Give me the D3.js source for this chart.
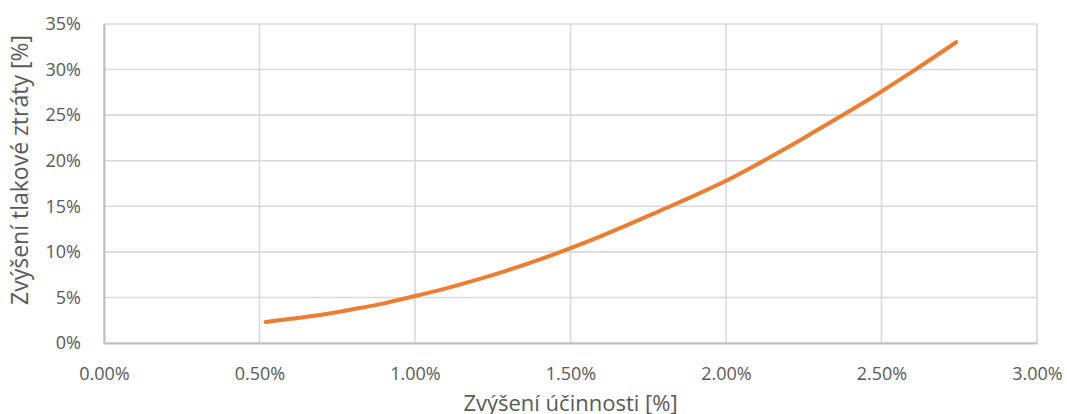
<!DOCTYPE html>
<meta charset="utf-8">
<style>
  body { margin: 0; background: #fff; }
  text { font-family: "Open Sans", sans-serif; fill: #595959; }
</style>
<script src="https://d3js.org/d3.v7.min.js"></script>
<div id="chart"></div>
<script>

// data (percent)
var efficiencyGain = [0.52, 0.6, 0.7, 0.8, 0.9, 1.0, 1.1, 1.2, 1.3, 1.4, 1.5, 1.6, 1.7, 1.8, 1.9, 2.0, 2.1, 2.2, 2.3, 2.4, 2.5, 2.6, 2.74];
var pressureLoss   = [2.30, 2.65, 3.1, 3.7, 4.35, 5.15, 6.0, 6.95, 8.0, 9.15, 10.4, 11.75, 13.2, 14.7, 16.2, 17.8, 19.6, 21.5, 23.5, 25.5, 27.6, 29.8, 33.0];
var xTicks = [0, 0.5, 1.0, 1.5, 2.0, 2.5, 3.0];
var yTicks = [0, 5, 10, 15, 20, 25, 30, 35];
var xTitle = "Zvýšení účinnosti [%]";
var yTitle = "Zvýšení tlakové ztráty [%]";

var W = 1067, H = 414;
var margin = {top: 24, right: 30, bottom: 71, left: 104};
var width = W - margin.left - margin.right,
    height = H - margin.top - margin.bottom;

var svg = d3.select("#chart").append("svg")
    .attr("width", W).attr("height", H);
var g = svg.append("g")
    .attr("transform", "translate(" + margin.left + "," + margin.top + ")");

var x = d3.scaleLinear().domain([0, 3]).range([0, width]);
var y = d3.scaleLinear().domain([0, 35]).range([height, 0]);

// gridlines
g.append("g").selectAll("line").data(yTicks).enter().append("line")
    .attr("x1", 0).attr("x2", width)
    .attr("y1", function(d) { return y(d); }).attr("y2", function(d) { return y(d); })
    .attr("stroke", "#d9d9d9").attr("stroke-width", 1.6);
g.append("g").selectAll("line").data(xTicks).enter().append("line")
    .attr("y1", 0).attr("y2", height)
    .attr("x1", function(d) { return x(d); }).attr("x2", function(d) { return x(d); })
    .attr("stroke", "#d9d9d9").attr("stroke-width", 1.6);

// axes
var xAxis = g.append("g")
    .attr("transform", "translate(0," + height + ")")
    .call(d3.axisBottom(x).tickValues(xTicks).tickSize(0).tickPadding(24)
      .tickFormat(function(d) { return d.toFixed(2) + "%"; }));
var yAxis = g.append("g")
    .call(d3.axisLeft(y).tickValues(yTicks).tickSize(0).tickPadding(23)
      .tickFormat(function(d) { return d + "%"; }));
[xAxis, yAxis].forEach(function(a) {
  a.select(".domain").attr("stroke", "#bfbfbf").attr("stroke-width", 2);
  a.selectAll("text").style("font-size", "18px").attr("fill", "#595959")
    .style("font-family", "'Open Sans', sans-serif");
});

// line
var line = d3.line()
    .x(function(d, i) { return x(efficiencyGain[i]); })
    .y(function(d) { return y(d); })
    .curve(d3.curveMonotoneX);
g.append("path")
    .datum(pressureLoss)
    .attr("d", line)
    .attr("fill", "none")
    .attr("stroke", "#ed7d31")
    .attr("stroke-width", 4)
    .attr("stroke-linecap", "round");

// titles (x title is cut at the bottom edge in the original too)
svg.append("text")
    .attr("x", margin.left + width / 2).attr("y", 411)
    .attr("text-anchor", "middle")
    .style("font-size", "22px")
    .text(xTitle);
svg.append("text")
    .attr("transform", "translate(28,170) rotate(-90)")
    .attr("text-anchor", "middle")
    .style("font-size", "23px")
    .text(yTitle);

</script>
